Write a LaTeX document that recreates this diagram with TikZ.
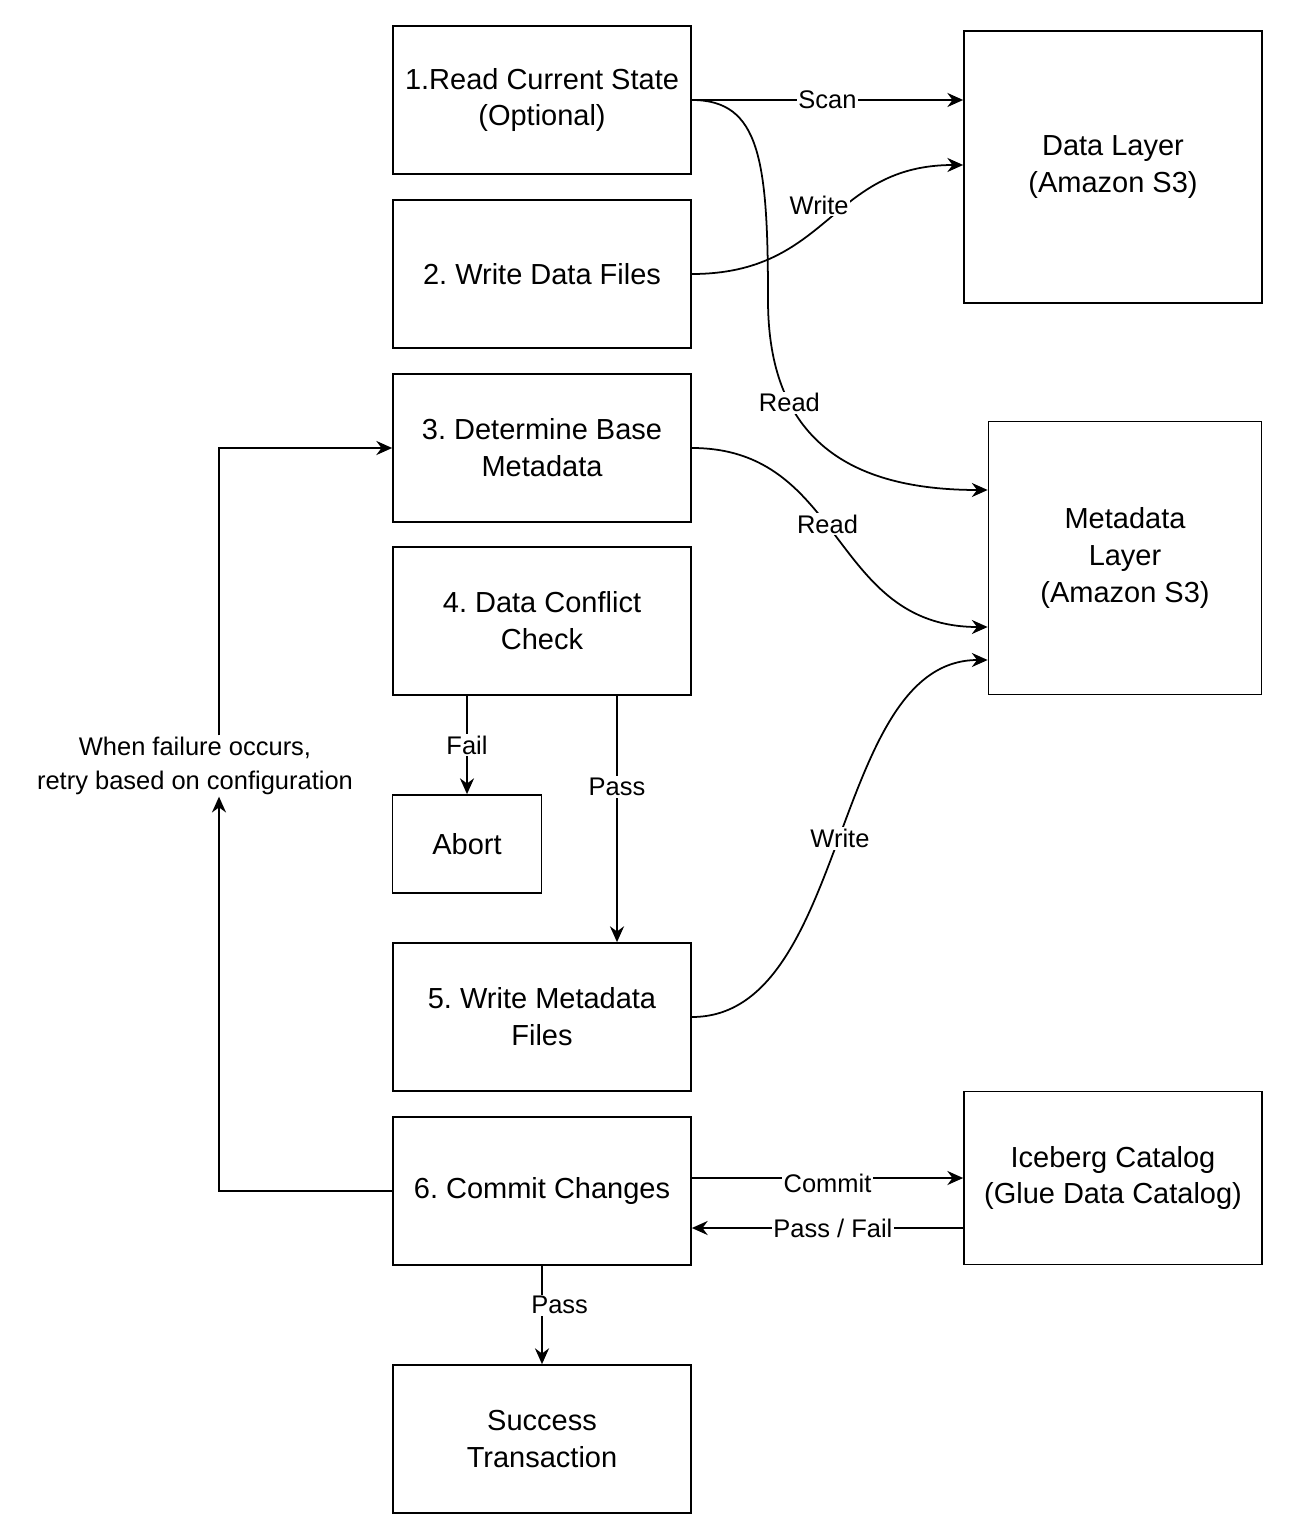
\documentclass[tikz,border=0pt]{standalone}
\usepackage{fontspec}
\setmainfont{Liberation Sans}
\usetikzlibrary{arrows.meta}
\frenchspacing
\tikzstyle{stage}=[draw,line width=1pt,align=center,font=\fontsize{16.5}{21}\selectfont]
\tikzstyle{lbl}=[fill=white,inner sep=1pt,font=\fontsize{14.5}{19}\selectfont]
\tikzstyle{flow}=[line width=1pt,-{Stealth[length=9pt,width=8pt]}]
\begin{document}
\begin{tikzpicture}[x=0.02cm,y=-0.02cm]
	\useasboundingbox (0,0) rectangle (1292,1540);
	% left column
	\node[stage,minimum width=5.96cm,minimum height=2.96cm] (read)   at (542,100)  {1.Read Current State\\(Optional)};
	\node[stage,minimum width=5.96cm,minimum height=2.96cm] (write)  at (542,274)  {2. Write Data Files};
	\node[stage,minimum width=5.96cm,minimum height=2.96cm] (base)   at (542,448)  {3. Determine Base\\Metadata};
	\node[stage,minimum width=5.96cm,minimum height=2.96cm] (check)  at (542,621)  {4. Data Conflict\\Check};
	\node[stage,minimum width=2.98cm,minimum height=1.96cm] (abort)  at (467,844)  {Abort};
	\node[stage,minimum width=5.96cm,minimum height=2.96cm] (meta)   at (542,1017) {5. Write Metadata\\Files};
	\node[stage,minimum width=5.96cm,minimum height=2.96cm] (commit) at (542,1191) {6. Commit Changes};
	\node[stage,minimum width=5.96cm,minimum height=2.96cm] (done)   at (542,1439) {Success\\Transaction};
	% right column
	\node[stage,minimum width=5.96cm,minimum height=5.44cm] (data)    at (1113,167)  {Data Layer\\(Amazon S3)};
	\node[stage,minimum width=5.46cm,minimum height=5.46cm] (mlayer)  at (1125,558)  {Metadata\\Layer\\(Amazon S3)};
	\node[stage,minimum width=5.96cm,minimum height=3.46cm] (catalog) at (1113,1178) {Iceberg Catalog\\(Glue Data Catalog)};
	\node[lbl,align=center] (retry) at (195,766) {When failure occurs,\\retry based on configuration};

	\draw[flow] (read.east) -- node[lbl]{Scan} (read.east -| data.west);
	\draw[flow] (write.east) .. controls (830,274) and (830,165) .. node[lbl,pos=.45,above=6pt]{Write} (data.west |- 0,165);
	\draw[flow] (read.east) .. controls (760,100) and (768,160) .. (768,300)
		.. controls (768,440) and (850,490) .. node[lbl,pos=.3]{Read} (mlayer.west |- 0,490);
	\draw[flow] (base.east) .. controls (845,448) and (830,627) .. node[lbl,pos=.45]{Read} (mlayer.west |- 0,627);
	\draw[flow] (meta.east) .. controls (850,1017) and (830,660) .. node[lbl]{Write} (mlayer.west |- 0,660);
	\draw[flow] (abort.north |- check.south) -- node[lbl]{Fail} (abort.north);
	\draw[flow] (check.south -| 617,0) -- node[lbl,pos=.37]{Pass} (meta.north -| 617,0);
	\draw[flow] (commit.east |- 0,1178) -- node[lbl,above=-10pt]{Commit} (catalog.west |- 0,1178);
	\draw[flow] (catalog.west |- 0,1228) -- node[lbl,pos=.48]{Pass / Fail} (commit.east |- 0,1228);
	\draw[flow] (commit.south) -- node[lbl,xshift=10pt,pos=.4]{Pass} (done.north);
	\draw[flow] (commit.west) -- (219,1191) -- (retry.south -| 219,0);
	\draw[flow] (retry.north -| 219,0) |- (base.west);
\end{tikzpicture}
\end{document}
